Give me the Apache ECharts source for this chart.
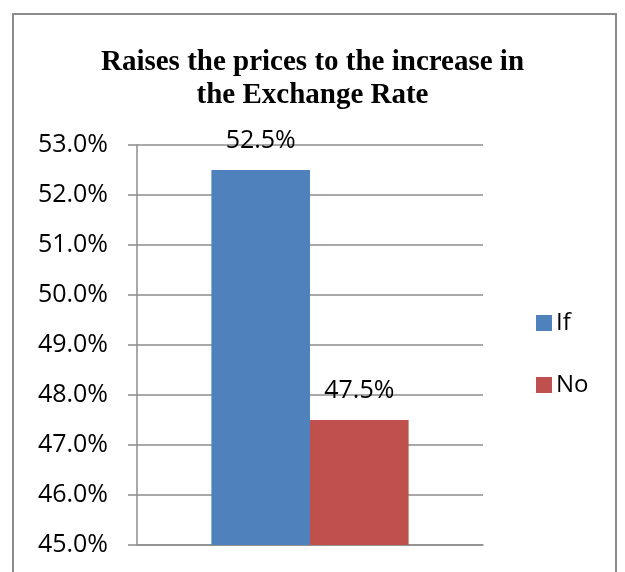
<!DOCTYPE html>
<html>
<head>
<meta charset="utf-8">
<script src="https://cdn.jsdelivr.net/npm/echarts@6/dist/echarts.min.js"></script>
<style>
  html, body { margin: 0; padding: 0; background: #fff; }
  #chart { width: 625px; height: 572px; }
</style>
</head>
<body>
<div id="chart"></div>
<script>
const categories = ['']
const seriesNames = ['If', 'No']
const ifValues = [52.5]
const noValues = [47.5]
const colors = ['#4F81BD', '#C0504D']

const chart = echarts.init(document.getElementById('chart'))

const labelFont = '"Open Sans", "Liberation Sans", sans-serif'

const option = {
  animation: false,
  title: {
    text: 'Raises the prices to the increase in\nthe Exchange Rate',
    left: 'center',
    top: 41,
    textStyle: {
      fontFamily: '"Liberation Serif", "Times New Roman", serif',
      fontWeight: 'bold',
      fontSize: 29,
      lineHeight: 33,
      color: '#000'
    }
  },
  graphic: [
    {
      type: 'rect',
      shape: { x: 13, y: 14, width: 603, height: 620 },
      style: { fill: 'none', stroke: '#8c8c8c', lineWidth: 2 },
      silent: true
    }
  ],
  legend: {
    orient: 'vertical',
    left: 531,
    top: 306,
    icon: 'rect',
    itemWidth: 16,
    itemHeight: 16,
    itemGap: 38,
    data: seriesNames,
    textStyle: { fontFamily: labelFont, fontSize: 24, color: '#000', padding: [0, 0, 0, -1] }
  },
  grid: {
    left: 137,
    right: 142,
    top: 145,
    bottom: 27
  },
  xAxis: {
    type: 'category',
    data: categories,
    axisLine: { lineStyle: { color: '#8c8c8c', width: 1.5 } },
    axisTick: { show: false },
    axisLabel: { show: false }
  },
  yAxis: {
    type: 'value',
    min: 45,
    max: 53,
    interval: 1,
    axisLine: { show: true, lineStyle: { color: '#8c8c8c', width: 1.5 } },
    axisTick: { show: true, length: 9, lineStyle: { color: '#8c8c8c', width: 1.5 } },
    splitLine: { lineStyle: { color: '#8c8c8c', width: 1.5 } },
    axisLabel: {
      margin: 29,
      fontFamily: labelFont,
      fontSize: 25,
      color: '#000',
      formatter: v => v.toFixed(1) + '%'
    }
  },
  series: [
    {
      name: seriesNames[0],
      type: 'bar',
      data: ifValues,
      barGap: '0%',
      barCategoryGap: '43%',
      itemStyle: { color: colors[0] },
      label: {
        show: true,
        position: 'top',
        distance: 17,
        fontFamily: labelFont,
        fontSize: 25,
        color: '#000',
        formatter: p => p.value.toFixed(1) + '%'
      }
    },
    {
      name: seriesNames[1],
      type: 'bar',
      data: noValues,
      barGap: '0%',
      barCategoryGap: '43%',
      itemStyle: { color: colors[1] },
      label: {
        show: true,
        position: 'top',
        distance: 17,
        fontFamily: labelFont,
        fontSize: 25,
        color: '#000',
        formatter: p => p.value.toFixed(1) + '%'
      }
    }
  ]
}

chart.setOption(option)
</script>
</body>
</html>
